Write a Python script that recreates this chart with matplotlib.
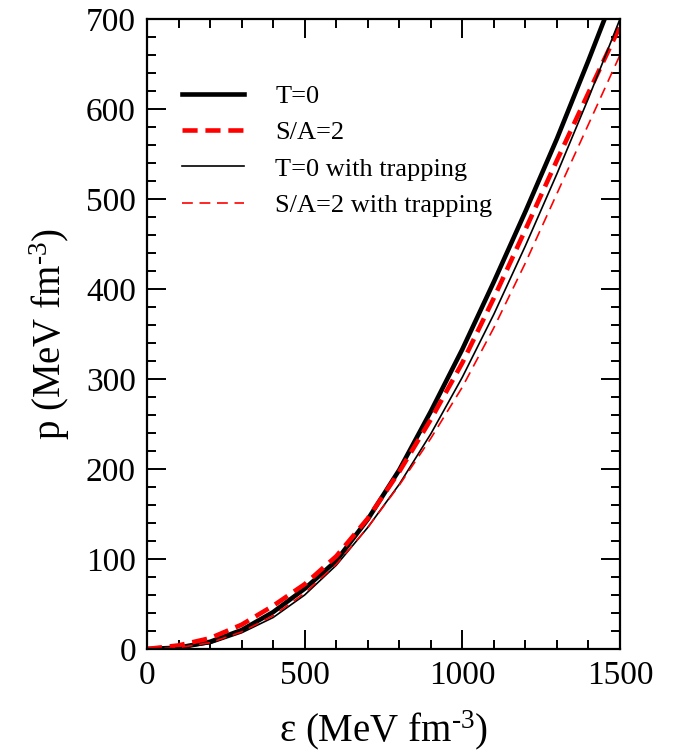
import matplotlib
matplotlib.use("Agg")
import matplotlib.pyplot as plt
from matplotlib.ticker import MultipleLocator

plt.rcParams['font.family'] = ['Liberation Serif', 'DejaVu Serif']
plt.rcParams['mathtext.fontset'] = 'custom'
plt.rcParams['mathtext.rm'] = 'Liberation Serif'
plt.rcParams['mathtext.it'] = 'Liberation Serif:italic'

# energy density grid (MeV fm^-3)
eps = [0, 100, 200, 300, 400, 500, 600, 700, 800, 900, 1000, 1100, 1200, 1300, 1400, 1500]
# pressure (MeV fm^-3)
p_T0 = [0, 1.5, 8, 21, 41, 67, 98, 144, 199, 264, 333, 408, 486, 567, 654, 744]
p_SA2 = [0, 4, 12, 27, 48, 72, 103, 145, 197, 255, 318, 390, 466, 543, 618, 692]
p_T0_trap = [0, 1, 6, 18, 35, 60, 93, 135, 183, 239, 302, 372, 448, 528, 612, 700]
p_SA2_trap = [0, 1.5, 7, 19, 37, 62, 94, 135, 182, 234, 291, 357, 429, 506, 583, 660]

labels = ["T=0", "S/A=2", "T=0 with trapping", "S/A=2 with trapping"]
xticks = [0, 500, 1000, 1500]
yticks = [0, 100, 200, 300, 400, 500, 600, 700]

fig = plt.figure(figsize=(6.83, 7.53), dpi=100)
ax = fig.add_axes([147/683, 1-649/753, (620-147)/683, (649-19)/753])

ax.plot(eps, p_T0, color='black', lw=3.3, label=labels[0])
ax.plot(eps, p_SA2, color='red', lw=3.3, linestyle=(0, (3.3, 1.7)), label=labels[1])
ax.plot(eps, p_T0_trap, color='black', lw=1.2, label=labels[2])
ax.plot(eps, p_SA2_trap, color='red', lw=1.2, linestyle=(0, (6.5, 4)), label=labels[3])

ax.set_xlim(0, 1500)
ax.set_ylim(0, 700)
ax.set_xticks(xticks)
ax.set_yticks(yticks)
ax.xaxis.set_minor_locator(MultipleLocator(100))
ax.yaxis.set_minor_locator(MultipleLocator(20))
ax.tick_params(which='both', direction='in', top=True, right=True, width=1.4)
ax.tick_params(which='major', length=13.5, labelsize=24, pad=8)
ax.tick_params(which='minor', length=6.8)
for s in ax.spines.values():
    s.set_linewidth(1.6)

ax.set_xlabel("ε (MeV fm$^{\\text{-3}}$)", fontsize=28, labelpad=13)
ax.set_ylabel("p (MeV fm$^{\\text{-3}}$)", fontsize=28, labelpad=10)

ax.legend(loc='upper left', bbox_to_anchor=(0.051, 0.913), frameon=False,
          fontsize=19, handlelength=2.35, handletextpad=1.2, labelspacing=0.49,
          borderaxespad=0)

fig.savefig("out.png", dpi=100)
